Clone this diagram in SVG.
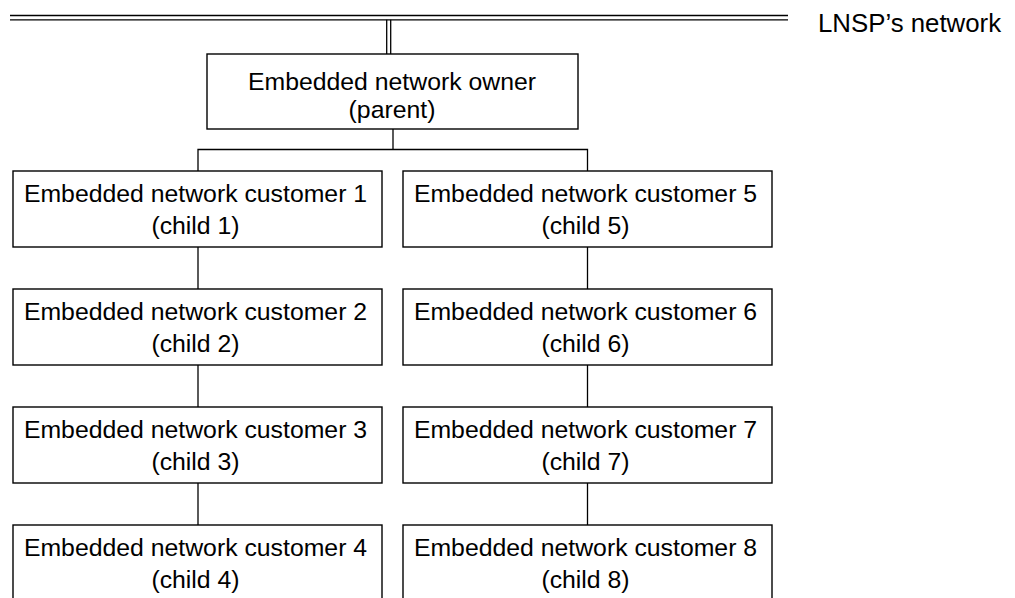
<svg xmlns="http://www.w3.org/2000/svg" width="1015" height="598" viewBox="0 0 1015 598">
<style>
.box{fill:#fff;stroke:#000;stroke-width:1.4}
.ln{fill:none;stroke:#000;stroke-width:1.3}
.t{font-family:"Liberation Sans",Arial,sans-serif;font-size:24.8px;fill:#000;text-anchor:middle}
.lbl{font-family:"Liberation Sans",Arial,sans-serif;font-size:25.8px;fill:#000}
</style>
<g id="connectors">
<line class="ln" x1="10" y1="15.5" x2="788" y2="15.5"/>
<line class="ln" x1="10" y1="19.8" x2="788" y2="19.8"/>
<line class="ln" x1="386.7" y1="19.8" x2="386.7" y2="54"/>
<line class="ln" x1="390.7" y1="19.8" x2="390.7" y2="54"/>
<polyline class="ln" points="393,129 393,149.5"/>
<polyline class="ln" points="198,171 198,149.5 587.5,149.5 587.5,171"/>
<line class="ln" x1="198" y1="247" x2="198" y2="289"/>
<line class="ln" x1="198" y1="365" x2="198" y2="407"/>
<line class="ln" x1="198" y1="483" x2="198" y2="525"/>
<line class="ln" x1="587.5" y1="247" x2="587.5" y2="289"/>
<line class="ln" x1="587.5" y1="365" x2="587.5" y2="407"/>
<line class="ln" x1="587.5" y1="483" x2="587.5" y2="525"/>
</g>
<g id="lnsp">
<text class="lbl" x="818" y="32">LNSP’s network</text>
</g>
<g id="parent">
<rect class="box" x="207" y="54" width="371" height="75"/>
<text class="t" x="392" y="90">Embedded network owner</text>
<text class="t" x="392" y="118">(parent)</text>
</g>
<g id="child1">
<rect class="box" x="13" y="171" width="369" height="76"/>
<text class="t" x="195.5" y="202">Embedded network customer 1</text>
<text class="t" x="195.5" y="234">(child 1)</text>
</g>
<g id="child2">
<rect class="box" x="13" y="289" width="369" height="76"/>
<text class="t" x="195.5" y="320">Embedded network customer 2</text>
<text class="t" x="195.5" y="352">(child 2)</text>
</g>
<g id="child3">
<rect class="box" x="13" y="407" width="369" height="76"/>
<text class="t" x="195.5" y="438">Embedded network customer 3</text>
<text class="t" x="195.5" y="470">(child 3)</text>
</g>
<g id="child4">
<rect class="box" x="13" y="525" width="369" height="76"/>
<text class="t" x="195.5" y="556">Embedded network customer 4</text>
<text class="t" x="195.5" y="588">(child 4)</text>
</g>
<g id="child5">
<rect class="box" x="403" y="171" width="369" height="76"/>
<text class="t" x="585.5" y="202">Embedded network customer 5</text>
<text class="t" x="585.5" y="234">(child 5)</text>
</g>
<g id="child6">
<rect class="box" x="403" y="289" width="369" height="76"/>
<text class="t" x="585.5" y="320">Embedded network customer 6</text>
<text class="t" x="585.5" y="352">(child 6)</text>
</g>
<g id="child7">
<rect class="box" x="403" y="407" width="369" height="76"/>
<text class="t" x="585.5" y="438">Embedded network customer 7</text>
<text class="t" x="585.5" y="470">(child 7)</text>
</g>
<g id="child8">
<rect class="box" x="403" y="525" width="369" height="76"/>
<text class="t" x="585.5" y="556">Embedded network customer 8</text>
<text class="t" x="585.5" y="588">(child 8)</text>
</g>
</svg>
